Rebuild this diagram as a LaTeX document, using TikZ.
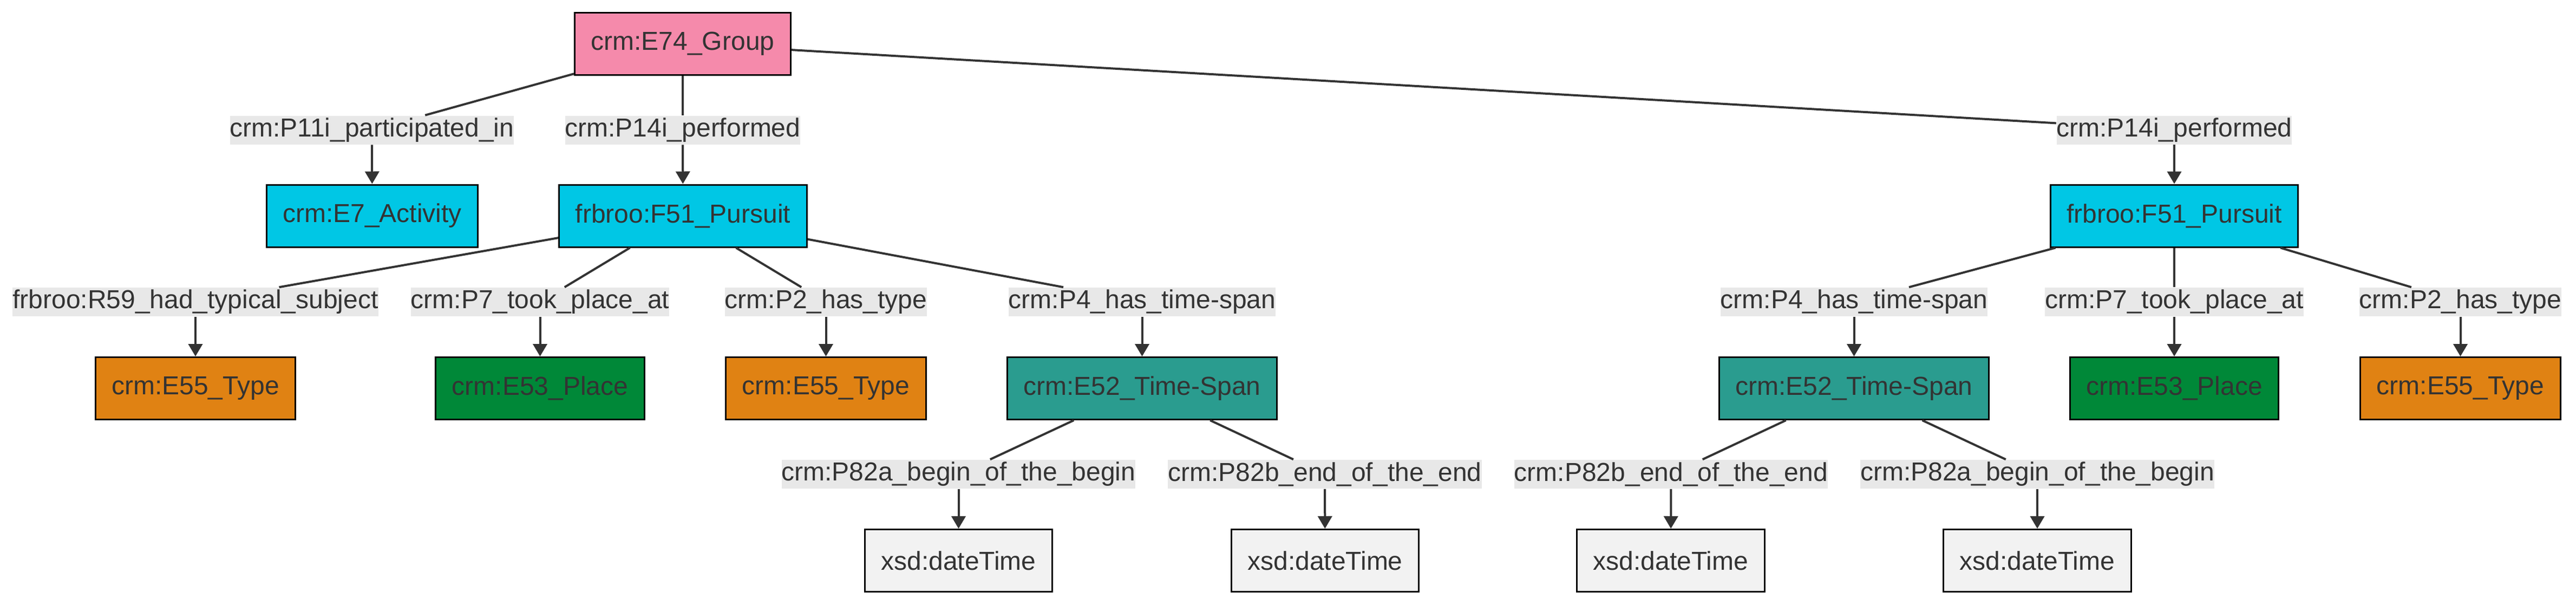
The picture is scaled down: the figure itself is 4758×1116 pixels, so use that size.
\documentclass[tikz,border=0pt]{standalone}
\usepackage{fontspec}
\setmainfont{Liberation Sans}
\usetikzlibrary{arrows.meta}
\definecolor{grouppink}{HTML}{F58AAB}
\definecolor{eventcyan}{HTML}{00C7E5}
\definecolor{typeorange}{HTML}{E08213}
\definecolor{placegreen}{HTML}{008838}
\definecolor{spanteal}{HTML}{2A9C8F}
\definecolor{literalgray}{HTML}{F2F2F2}
\definecolor{labelbg}{HTML}{E8E8E8}
\definecolor{inkgray}{HTML}{333333}
\begin{document}
\begin{tikzpicture}[x=0.25pt,y=-0.25pt,
  class node/.style={rectangle,draw=black,line width=0.75pt,text=inkgray,font=\fontsize{12}{14}\selectfont,inner xsep=7.5pt,inner ysep=0pt,minimum height=28.75pt},
  prop node/.style={rectangle,fill=labelbg,text=inkgray,font=\fontsize{12}{14}\selectfont,inner sep=0pt,minimum height=13.25pt},
  link/.style={draw=inkgray,line width=1pt},
  tip link/.style={draw=inkgray,line width=1pt,-{Triangle[length=5.75pt,width=6.5pt]}}]

  \useasboundingbox (0,0) rectangle (4758,1116);

  \node[class node,fill=grouppink] (1) at (1261,80.5) {crm:E74\_Group};

  \node[prop node] (p1) at (687,240) {crm:P11i\_participated\_in};
  \node[prop node] (p2) at (1261,240) {crm:P14i\_performed};
  \node[prop node] (p3) at (4016,240) {crm:P14i\_performed};

  \node[class node,fill=eventcyan] (2) at (687.5,398.5) {crm:E7\_Activity};
  \node[class node,fill=eventcyan] (3) at (1261.5,398.5) {frbroo:F51\_Pursuit};
  \node[class node,fill=eventcyan] (4) at (4016,398.5) {frbroo:F51\_Pursuit};

  \node[prop node] (p4) at (361,557.5) {frbroo:R59\_had\_typical\_subject};
  \node[prop node] (p5) at (997.5,557.5) {crm:P7\_took\_place\_at};
  \node[prop node] (p6) at (1525.5,557.5) {crm:P2\_has\_type};
  \node[prop node] (p7) at (2109.5,557.5) {crm:P4\_has\_time-span};
  \node[prop node] (p8) at (3424.5,557.5) {crm:P4\_has\_time-span};
  \node[prop node] (p9) at (4016,557.5) {crm:P7\_took\_place\_at};
  \node[prop node] (p10) at (4544.5,557.5) {crm:P2\_has\_type};

  \node[class node,fill=typeorange] (5) at (361,717) {crm:E55\_Type};
  \node[class node,fill=placegreen] (6) at (997.5,717) {crm:E53\_Place};
  \node[class node,fill=typeorange] (7) at (1525.5,717) {crm:E55\_Type};
  \node[class node,fill=spanteal] (8) at (2109.5,717) {crm:E52\_Time-Span};
  \node[class node,fill=spanteal] (9) at (3424.5,717) {crm:E52\_Time-Span};
  \node[class node,fill=placegreen] (10) at (4016,717) {crm:E53\_Place};
  \node[class node,fill=typeorange] (11) at (4544.5,717) {crm:E55\_Type};

  \node[prop node] (p11) at (1770.5,875.5) {crm:P82a\_begin\_of\_the\_begin};
  \node[prop node] (p12) at (2447,875.5) {crm:P82b\_end\_of\_the\_end};
  \node[prop node] (p13) at (3086.5,875.5) {crm:P82b\_end\_of\_the\_end};
  \node[prop node] (p14) at (3763,875.5) {crm:P82a\_begin\_of\_the\_begin};

  \node[class node,fill=literalgray] (12) at (1770.5,1035) {xsd:dateTime};
  \node[class node,fill=literalgray] (13) at (2447.5,1035) {xsd:dateTime};
  \node[class node,fill=literalgray] (14) at (3086,1035) {xsd:dateTime};
  \node[class node,fill=literalgray] (15) at (3763,1035) {xsd:dateTime};

  \path
   (1) edge[link] (p1)   (p1) edge[tip link] (2)
   (1) edge[link] (p2)   (p2) edge[tip link] (3)
   (1) edge[link] (p3)   (p3) edge[tip link] (4)
   (3) edge[link] (p4)   (p4) edge[tip link] (5)
   (3) edge[link] (p5)   (p5) edge[tip link] (6)
   (3) edge[link] (p6)   (p6) edge[tip link] (7)
   (3) edge[link] (p7)   (p7) edge[tip link] (8)
   (4) edge[link] (p8)   (p8) edge[tip link] (9)
   (4) edge[link] (p9)   (p9) edge[tip link] (10)
   (4) edge[link] (p10)  (p10) edge[tip link] (11)
   (8) edge[link] (p11)  (p11) edge[tip link] (12)
   (8) edge[link] (p12)  (p12) edge[tip link] (13)
   (9) edge[link] (p13)  (p13) edge[tip link] (14)
   (9) edge[link] (p14)  (p14) edge[tip link] (15);
\end{tikzpicture}
\end{document}
